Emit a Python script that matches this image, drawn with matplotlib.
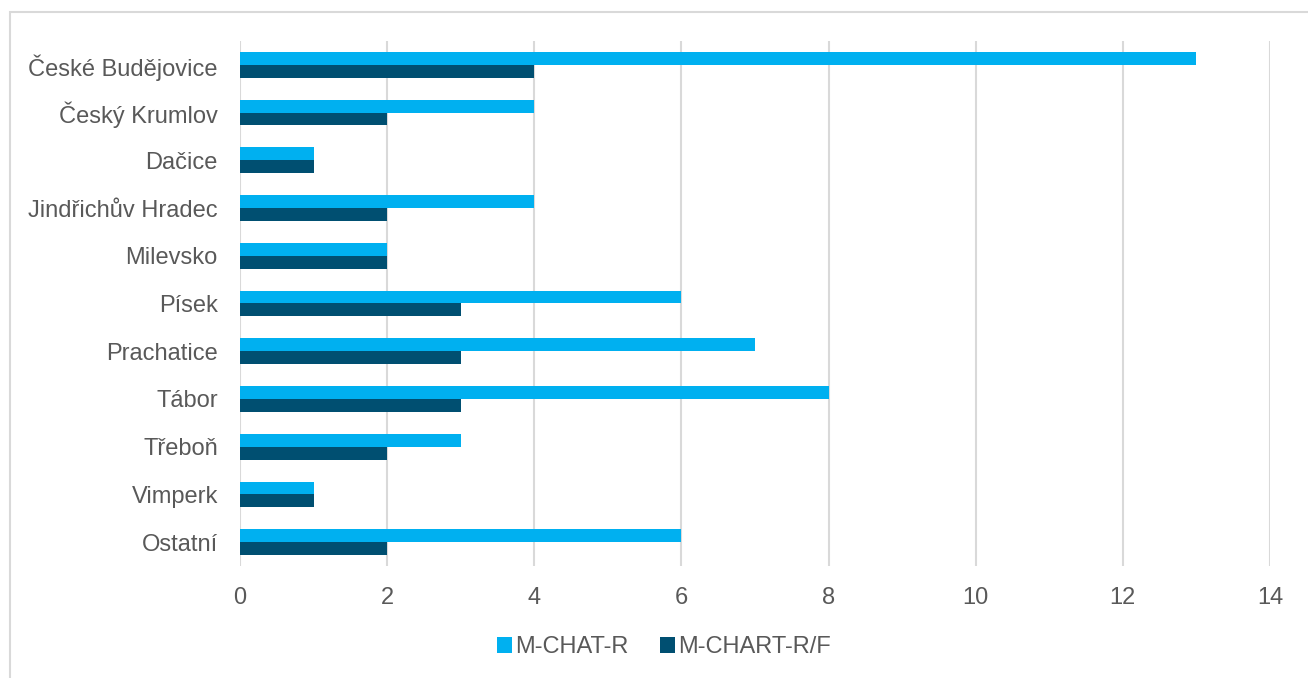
import numpy as np
import matplotlib.pyplot as plt
from matplotlib.patches import Rectangle

plt.rcParams['font.family'] = ['Liberation Sans', 'DejaVu Sans']

districts = ['České Budějovice', 'Český Krumlov', 'Dačice', 'Jindřichův Hradec',
             'Milevsko', 'Písek', 'Prachatice', 'Tábor', 'Třeboň', 'Vimperk', 'Ostatní']
mchat_r = [13, 4, 1, 4, 2, 6, 7, 8, 3, 1, 6]
mchart_rf = [4, 2, 1, 2, 2, 3, 3, 3, 2, 1, 2]

c_light = '#00B0F0'
c_dark = '#004F71'
txt = '#595959'
grid = '#D9D9D9'

fig = plt.figure(figsize=(13.08, 6.78), dpi=100)
ax = fig.add_axes([240 / 1308, 1 - 566 / 678, 1030 / 1308, 525 / 678])

# outer chart frame (only left and top edges fall inside the image)
fig.patches.append(Rectangle((10 / 1308, -0.1), 1.2, 1 - 12 / 678 + 0.1,
                             transform=fig.transFigure, fill=False,
                             edgecolor='#D9D9D9', linewidth=1.5))

y = np.arange(len(districts))
h = 0.27
ax.barh(y - h / 2, mchat_r, height=h, color=c_light, label='M-CHAT-R', zorder=3)
ax.barh(y + h / 2, mchart_rf, height=h, color=c_dark, label='M-CHART-R/F', zorder=3)

ax.set_ylim(len(districts) - 0.5, -0.5)
ax.set_xlim(0, 14)
ax.set_xticks(np.arange(0, 15, 2))
ax.set_yticks(y)
ax.set_yticklabels(districts)
ax.tick_params(axis='both', length=0, labelsize=17, labelcolor=txt)
ax.tick_params(axis='x', pad=15)
ax.tick_params(axis='y', pad=16)
ax.grid(axis='x', color=grid, linewidth=1.5, zorder=0)
for s in ax.spines.values():
    s.set_visible(False)

ax.legend(loc='center', bbox_to_anchor=(664 / 1308, 1 - 647 / 678),
          bbox_transform=fig.transFigure, ncol=2, frameon=False,
          fontsize=17, labelcolor=txt, handlelength=0.65, handleheight=0.65,
          handletextpad=0.15, columnspacing=1.3)

fig.savefig('out.png', dpi=100)
